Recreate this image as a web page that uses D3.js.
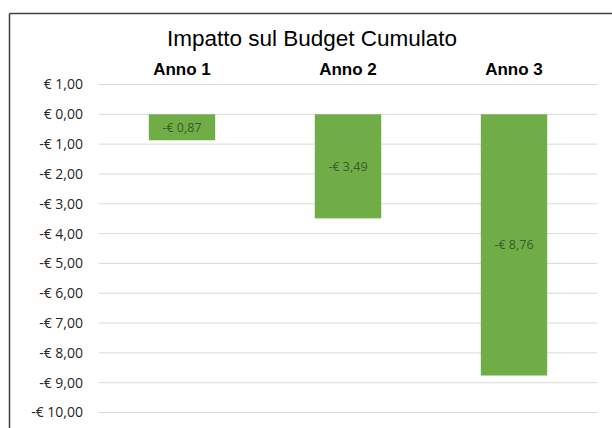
<!DOCTYPE html>
<html>
<head>
<meta charset="utf-8">
<script src="https://cdn.jsdelivr.net/npm/d3@7"></script>
<style>
  body { margin: 0; background: #fff; }
  svg { display: block; }
</style>
</head>
<body>
<svg id="chart" width="612" height="428"></svg>
<script>
// Impatto sul Budget Cumulato - bar chart with negative values

const categories = ["Anno 1", "Anno 2", "Anno 3"];
const values = [-0.87, -3.49, -8.76];
const yTicks = [1, 0, -1, -2, -3, -4, -5, -6, -7, -8, -9, -10];

const margin = { top: 84.5, right: 15, bottom: 15.5, left: 99 };
const width = 612 - margin.left - margin.right;
const height = 428 - margin.top - margin.bottom;

const svg = d3.select("#chart");

// Chart frame (top and left border only visible)
svg.append("line")
  .attr("x1", 9.5).attr("x2", 612)
  .attr("y1", 13.5).attr("y2", 13.5)
  .attr("stroke", "#404040").attr("stroke-width", 1.5);
svg.append("line")
  .attr("x1", 9.5).attr("x2", 9.5)
  .attr("y1", 13.5).attr("y2", 428)
  .attr("stroke", "#404040").attr("stroke-width", 1.5);

// Title
svg.append("text")
  .attr("x", 312)
  .attr("y", 46)
  .attr("text-anchor", "middle")
  .attr("font-family", "Liberation Sans, Arial, sans-serif")
  .attr("font-size", 22.5)
  .attr("fill", "#000")
  .text("Impatto sul Budget Cumulato");

const g = svg.append("g")
  .attr("transform", `translate(${margin.left},${margin.top})`);

// Scales
const x = d3.scaleBand()
  .domain(categories)
  .range([0, width])
  .paddingInner(0.6)
  .paddingOuter(0.3);

const y = d3.scaleLinear()
  .domain([1, -10])
  .range([0, height]);

const euro = v => (v < 0 ? "-€ " : "€ ") + d3.format(".2f")(Math.abs(v)).replace(".", ",");

// Gridlines
g.append("g")
  .selectAll("line")
  .data(yTicks)
  .enter()
  .append("line")
  .attr("x1", 0)
  .attr("x2", width)
  .attr("y1", d => y(d))
  .attr("y2", d => y(d))
  .attr("stroke", "#d9d9d9")
  .attr("stroke-width", 1);

// Y axis labels
const yAxis = d3.axisLeft(y)
  .tickValues(yTicks)
  .tickSize(0)
  .tickPadding(16)
  .tickFormat(euro);

g.append("g")
  .call(yAxis)
  .call(a => a.select(".domain").remove())
  .call(a => a.selectAll("text")
    .attr("font-family", "Open Sans, sans-serif")
    .attr("font-size", 14)
    .attr("fill", "#262626"));

// Category labels at top
const xAxis = d3.axisTop(x).tickSize(0).tickPadding(10);
g.append("g")
  .call(xAxis)
  .call(a => a.select(".domain").remove())
  .call(a => a.selectAll("text")
    .attr("font-family", "Liberation Sans, Arial, sans-serif")
    .attr("font-weight", "bold")
    .attr("font-size", 17)
    .attr("fill", "#000"));

// Bars
g.selectAll(".bar")
  .data(values)
  .enter()
  .append("rect")
  .attr("class", "bar")
  .attr("x", (d, i) => x(categories[i]))
  .attr("y", d => y(Math.max(0, d)))
  .attr("width", x.bandwidth())
  .attr("height", d => Math.abs(y(d) - y(0)))
  .attr("fill", "#70ad47");

// Data labels, centred in each bar
g.selectAll(".label")
  .data(values)
  .enter()
  .append("text")
  .attr("class", "label")
  .attr("x", (d, i) => x(categories[i]) + x.bandwidth() / 2)
  .attr("y", d => (y(0) + y(d)) / 2)
  .attr("dy", "0.35em")
  .attr("text-anchor", "middle")
  .attr("font-family", "Open Sans, sans-serif")
  .attr("font-size", 12.5)
  .attr("fill", "#3b5a2a")
  .text(euro);
</script>
</body>
</html>
